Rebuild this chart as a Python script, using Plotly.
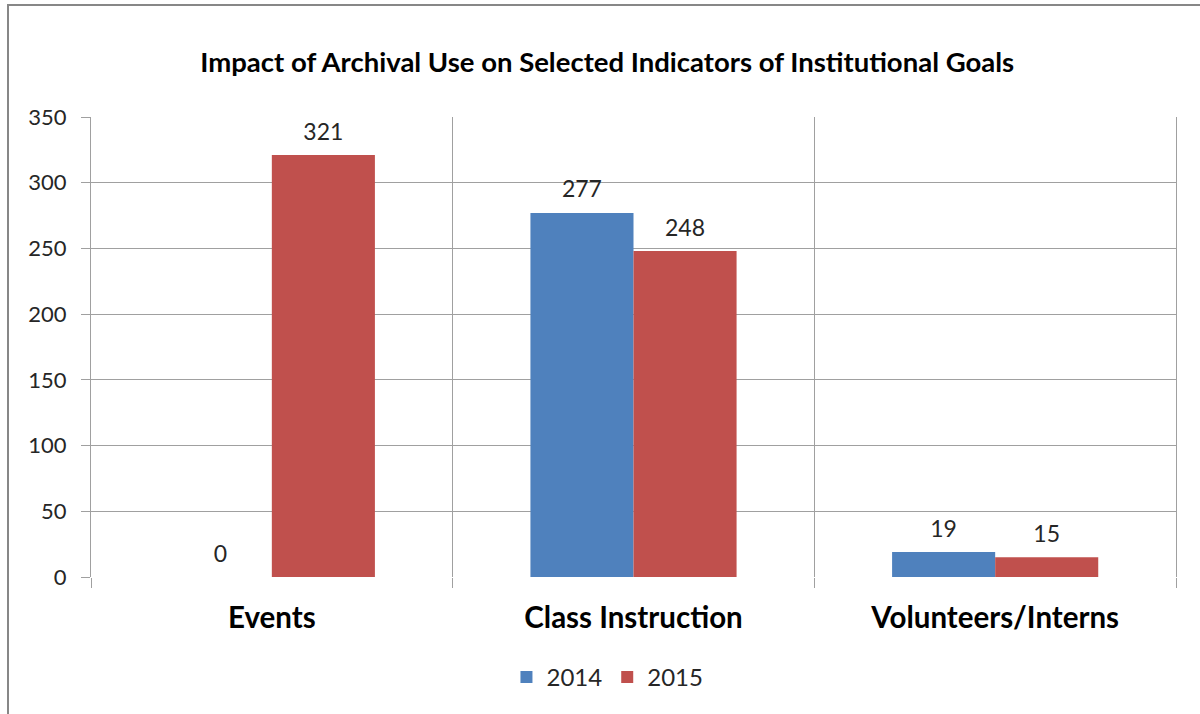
import plotly.graph_objects as go

categories = ["Events", "Class Instruction", "Volunteers/Interns"]
years = ["2014", "2015"]
values_2014 = [0, 277, 19]
values_2015 = [321, 248, 15]
y_ticks = [0, 50, 100, 150, 200, 250, 300, 350]

BLUE = "#4F81BD"
RED = "#C0504D"
GRID = "#A0A0A0"
TEXT = "#262626"
FONT = "Lato, sans-serif"
GAP = 0.43

fig = go.Figure()
for name, vals, col in [(years[0], values_2014, BLUE), (years[1], values_2015, RED)]:
    fig.add_trace(go.Bar(
        x=categories, y=vals, name=name,
        marker=dict(color=col, line=dict(width=0)),
        offsetgroup=name,
    ))

# data labels as grouped scatter text so they sit higher above the bars (Excel style)
for name, vals in [(years[0], values_2014), (years[1], values_2015)]:
    fig.add_trace(go.Scatter(
        x=categories, y=vals, mode="markers+text",
        text=[str(v) for v in vals], textposition="top center",
        marker=dict(size=14, opacity=0),
        textfont=dict(family=FONT, size=23, color=TEXT),
        offsetgroup=name, showlegend=False, hoverinfo="skip", cliponaxis=False,
    ))

fig.update_layout(
    width=1200, height=714,
    font=dict(family=FONT, color=TEXT, size=22),
    paper_bgcolor="white", plot_bgcolor="white",
    margin=dict(l=91, r=24, t=117, b=137),
    barmode="group", bargap=GAP, bargroupgap=0,
    scattermode="group", scattergap=GAP,
    title=dict(
        text="<b>Impact of Archival Use on Selected Indicators of Institutional Goals</b>",
        x=0.506, xanchor="center", y=0.912, yanchor="middle",
        font=dict(family=FONT, size=27.5, color="#000000"),
    ),
    xaxis=dict(
        type="category", tickson="boundaries",
        showgrid=True, gridcolor=GRID, gridwidth=1,
        showline=False, zeroline=False,
        ticks="outside", ticklen=10, tickcolor=GRID,
        tickfont=dict(family=FONT, size=29.5, color="#000000", weight="bold"),
        ticklabelstandoff=20,
    ),
    yaxis=dict(
        range=[0, 350], tickvals=y_ticks,
        showgrid=True, gridcolor=GRID, gridwidth=1,
        showline=True, linecolor=GRID, linewidth=1, mirror=True,
        zeroline=False,
        ticks="outside", ticklen=9, tickcolor=GRID,
        tickfont=dict(family=FONT, size=22, color=TEXT),
        ticklabelstandoff=10,
    ),
    legend=dict(
        orientation="h", x=0.476, xanchor="center", y=-0.218, yanchor="middle",
        font=dict(family=FONT, size=24, color=TEXT),
        traceorder="normal", itemwidth=30,
    ),
    shapes=[dict(
        type="rect", xref="paper", yref="paper",
        x0=(8 - 91) / 1085, x1=(1210 - 91) / 1085,
        y0=(577 - 720) / 460, y1=(577 - 5) / 460,
        line=dict(color="#878787", width=2), layer="below",
    )],
)

fig.write_html("out.html", config={"displayModeBar": False},
               post_script="document.body.style.margin='0';")
